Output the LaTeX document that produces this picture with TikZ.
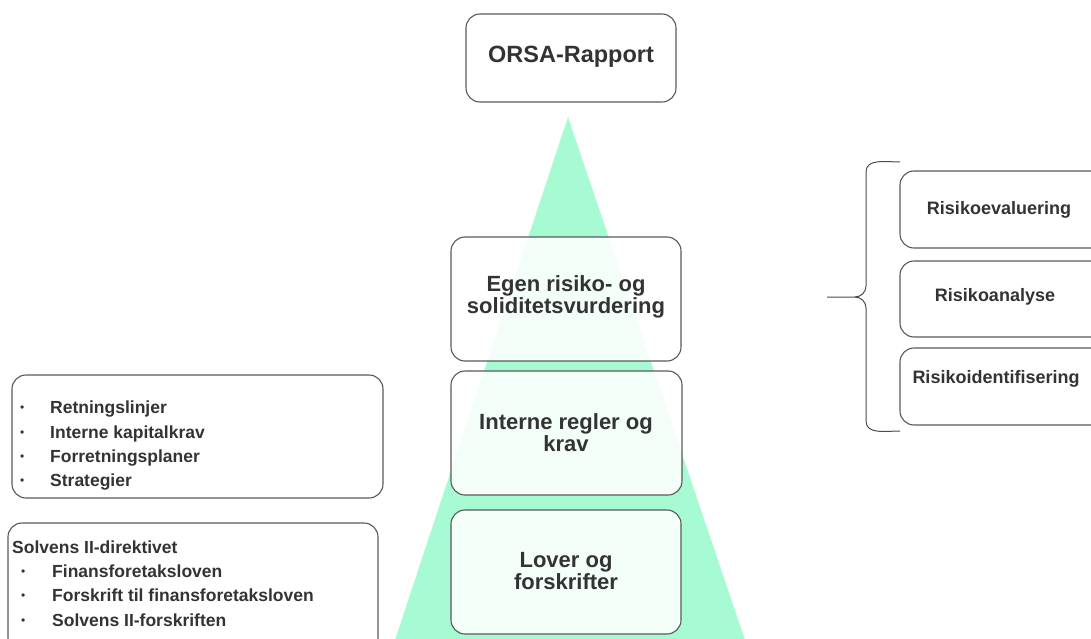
\documentclass[tikz,border=0pt]{standalone}
\usepackage{fontspec}
\setmainfont{Liberation Sans}
\begin{document}
\begin{tikzpicture}[x=1pt,y=-1pt,
  box/.style={draw=black!65,line width=1.1pt,rounded corners=14pt,fill=white,fill opacity=0.88,text opacity=1},
  lbl/.style={text=black!80,font=\bfseries,align=center},
  item/.style={text=black!80,font=\bfseries\fontsize{17.5}{20}\selectfont,anchor=base west,inner sep=0pt},
  bul/.style={text=black!80,font=\fontsize{12}{14}\selectfont,anchor=base west,inner sep=0pt}]
\useasboundingbox (0,0) rectangle (1091,639);
\clip (0,0) rectangle (1091,639);
\definecolor{pyr}{HTML}{A6FBD3}
% pyramid
\coordinate (apex) at (568,117);
\coordinate (bl) at (395,640);
\coordinate (br) at (745,640);
\fill[pyr] (apex) -- (br) -- (bl) -- cycle;
% top
\draw[box,fill opacity=1] (466,14) rectangle (676,102);
\node[lbl,font=\bfseries\fontsize{23.5}{26}\selectfont] (orsa) at (571,57) {ORSA-Rapport};
% pyramid boxes
\draw[box] (451,237) rectangle (681,361);
\node[lbl,font=\bfseries\fontsize{22}{22}\selectfont] (egen) at (566,297) {Egen risiko- og\\soliditetsvurdering};
\draw[box] (451,371) rectangle (682,495);
\node[lbl,font=\bfseries\fontsize{22}{22}\selectfont] (int) at (566,433) {Interne regler og\\krav};
\draw[box] (451,510) rectangle (681,634);
\node[lbl,font=\bfseries\fontsize{22}{22}\selectfont] (lov) at (566,571) {Lover og\\forskrifter};
% left boxes
\draw[box,fill opacity=1] (12,375) rectangle (383,498);
\foreach \y/\t in {413/Retningslinjer,438/Interne kapitalkrav,462/Forretningsplaner,486/Strategier}{
  \node[bul] at (20,\y-2) {•};
  \node[item] at (50,\y) {\t};
}
\draw[box,fill opacity=1] (8,523) rectangle (378,652);
\node[item] (sol) at (12,553) {Solvens II-direktivet};
\foreach \y/\t in {577/Finansforetaksloven,601/Forskrift til finansforetaksloven,626/Solvens II-forskriften}{
  \node[bul] at (21,\y-2) {•};
  \node[item] at (52,\y) {\t};
}
% right boxes
\draw[box,fill opacity=1] (900,171) rectangle (1110,248);
\node[lbl,font=\bfseries\fontsize{18}{20}\selectfont] (r1) at (999,210) {Risikoevaluering};
\draw[box,fill opacity=1] (900,261) rectangle (1110,337);
\node[lbl,font=\bfseries\fontsize{18}{20}\selectfont] (r2) at (995,297) {Risikoanalyse};
\draw[box,fill opacity=1] (900,348) rectangle (1110,425);
\node[lbl,font=\bfseries\fontsize{18}{20}\selectfont] (r3) at (996,379) {Risikoidentifisering};
% brace
\coordinate (btop) at (900,162);
\coordinate (bbot) at (900,431);
\coordinate (btip) at (827,297);
\draw[black!70,line width=1pt] (btop) to[out=180,in=90] (866,172) -- (866,286)
  to[out=-90,in=0] (855,297) -- (btip);
\draw[black!70,line width=1pt] (bbot) to[out=180,in=-90] (866,421) -- (866,308)
  to[out=90,in=0] (855,297);
\end{tikzpicture}
\end{document}
